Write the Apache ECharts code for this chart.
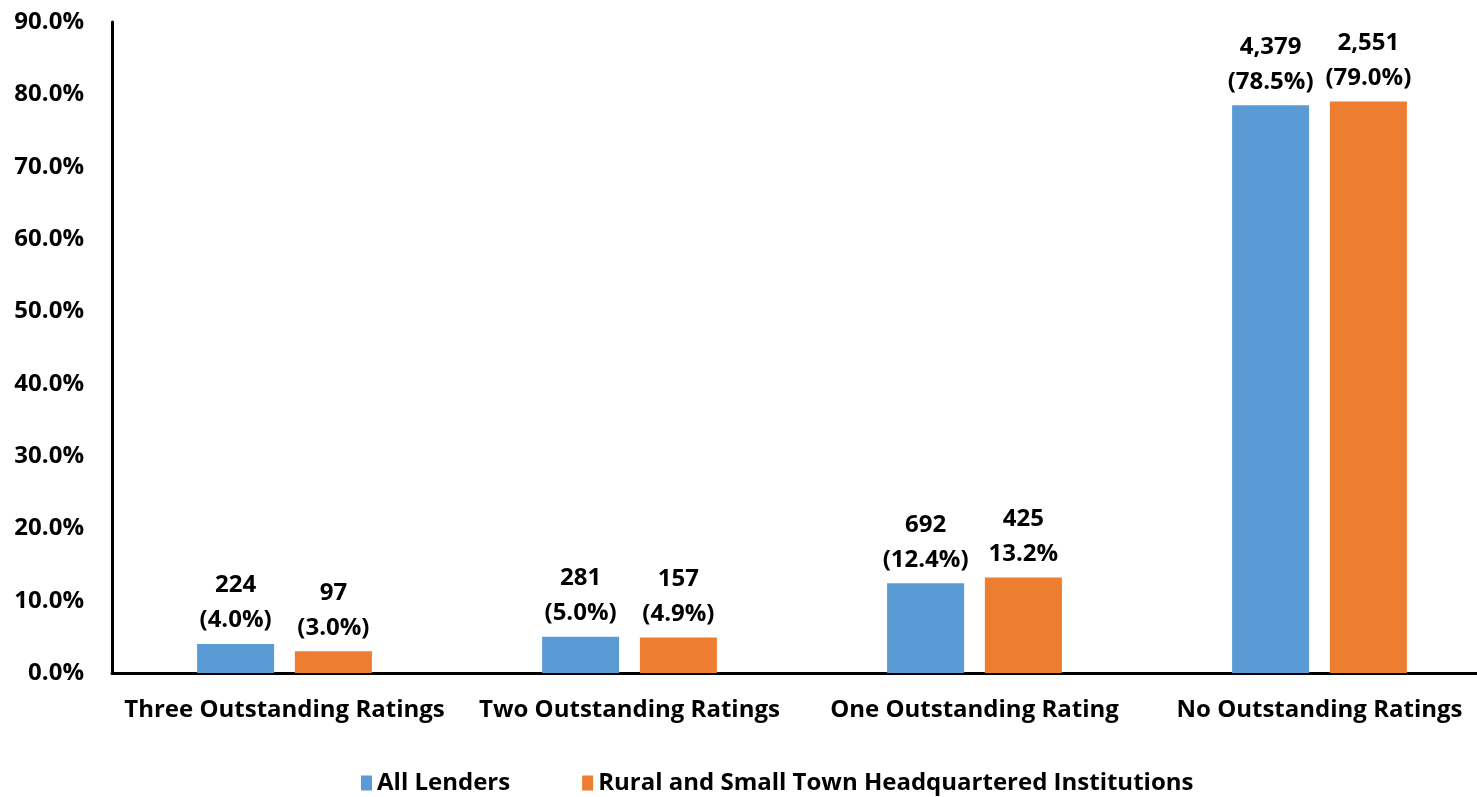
<!DOCTYPE html>
<html>
<head>
<meta charset="utf-8">
<script src="https://cdn.jsdelivr.net/npm/echarts@6/dist/echarts.min.js"></script>
<style>html,body{margin:0;padding:0;background:#fff;overflow:hidden;}#c{width:1500px;height:797px;}</style>
</head>
<body>
<div id="c"></div>
<script>
const categories = ['Three Outstanding Ratings', 'Two Outstanding Ratings', 'One Outstanding Rating', 'No Outstanding Ratings'];
const seriesNames = ['All Lenders', 'Rural and Small Town Headquartered Institutions'];
const allLendersPct = [4.0, 5.0, 12.4, 78.5];
const allLendersCount = ['224', '281', '692', '4,379'];
const allLendersPctText = ['(4.0%)', '(5.0%)', '(12.4%)', '(78.5%)'];
const ruralPct = [3.0, 4.9, 13.2, 79.0];
const ruralCount = ['97', '157', '425', '2,551'];
const ruralPctText = ['(3.0%)', '(4.9%)', '13.2%', '(79.0%)'];

const FONT = '"Open Sans"';
function labelFor(counts, texts) {
  return {
    show: true, position: 'top', distance: 6,
    fontFamily: FONT, fontWeight: 'bold', fontSize: 24, color: '#000', lineHeight: 35,
    formatter: p => counts[p.dataIndex] + '\n' + texts[p.dataIndex]
  };
}
const chart = echarts.init(document.getElementById('c'));
chart.setOption({
  animation: false,
  textStyle: { fontFamily: FONT },
  grid: { left: 112, top: 22, bottom: 124, width: 1380, containLabel: false },
  legend: {
    top: 766, left: 356, itemWidth: 11, itemHeight: 15, itemGap: 72, icon: 'rect',
    textStyle: { fontFamily: FONT, fontWeight: 'bold', fontSize: 24, color: '#000' },
    data: seriesNames
  },
  xAxis: {
    type: 'category', data: categories,
    axisLine: { lineStyle: { color: '#000', width: 3 } },
    axisTick: { show: false },
    axisLabel: { fontFamily: FONT, fontWeight: 'bold', fontSize: 24, color: '#000', margin: 25, interval: 0 }
  },
  yAxis: {
    type: 'value', min: 0, max: 90, interval: 10,
    axisLine: { show: true, lineStyle: { color: '#000', width: 3 } },
    axisTick: { show: false },
    splitLine: { show: false },
    axisLabel: { fontFamily: FONT, fontWeight: 'bold', fontSize: 24, color: '#000', margin: 28, formatter: v => v.toFixed(1) + '%' }
  },
  series: [
    { name: seriesNames[0], type: 'bar', data: allLendersPct, barWidth: 77, barGap: '27%',
      itemStyle: { color: '#5B9BD5' }, label: labelFor(allLendersCount, allLendersPctText) },
    { name: seriesNames[1], type: 'bar', data: ruralPct, barWidth: 77, barGap: '27%',
      itemStyle: { color: '#ED7D31' }, label: labelFor(ruralCount, ruralPctText) }
  ]
});
</script>
</body>
</html>
